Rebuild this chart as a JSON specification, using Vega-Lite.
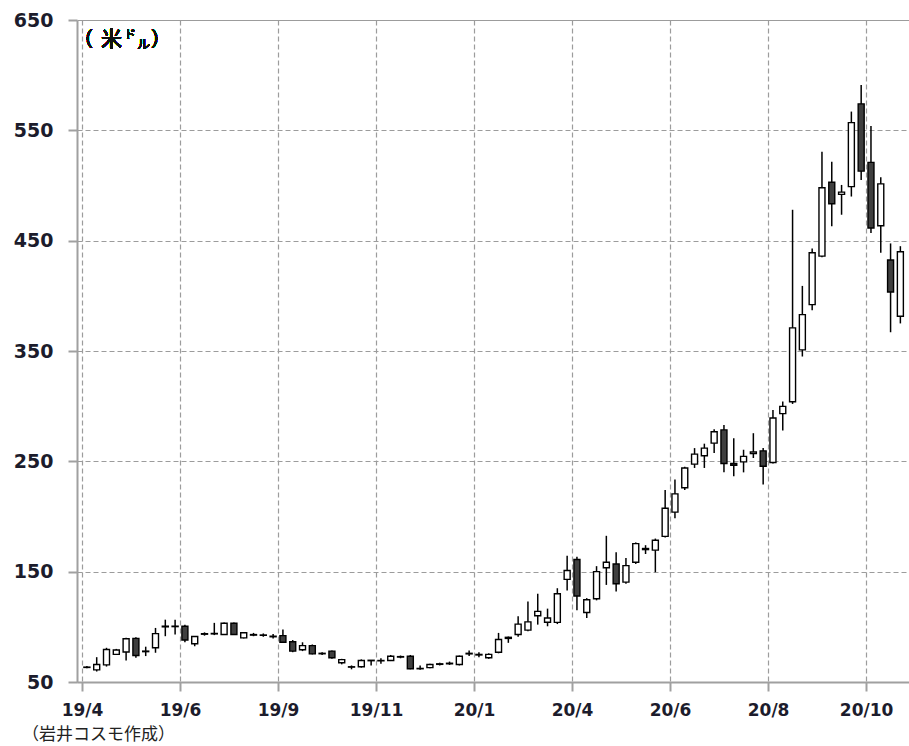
{
  "$schema": "https://vega.github.io/schema/vega-lite/v6.json",
  "width": 832,
  "height": 662,
  "autosize": {"type": "none"},
  "padding": {"left": 77, "top": 20, "right": 0, "bottom": 64},
  "background": "white",
  "config": {"view": {"stroke": null}},
  "title": {"text": "（岩井コスモ作成）", "orient": "bottom", "anchor": "start", "frame": "group", "dx": -55, "offset": 9, "font": "Noto Sans CJK JP", "fontSize": 17, "fontWeight": "normal", "color": "#222222", "baseline": "top"},
  "data": {"values": [
    {"w":0,"o":63.5,"h":64.5,"l":62.5,"c":63.2},
    {"w":1,"o":61,"h":72.5,"l":59.5,"c":65.8},
    {"w":2,"o":65.5,"h":81,"l":64,"c":79.4},
    {"w":3,"o":75,"h":80,"l":74.5,"c":79},
    {"w":4,"o":77.2,"h":90,"l":69.5,"c":89.2},
    {"w":5,"o":89.5,"h":90.5,"l":72,"c":74},
    {"w":6,"o":77.5,"h":82,"l":73.5,"c":78},
    {"w":7,"o":81,"h":99,"l":76.5,"c":93.8},
    {"w":8,"o":100,"h":106.5,"l":91.5,"c":100.6},
    {"w":9,"o":100.6,"h":106.5,"l":93,"c":100.2},
    {"w":10,"o":100.5,"h":102,"l":86,"c":88},
    {"w":11,"o":84.6,"h":91.5,"l":82.4,"c":91.3},
    {"w":12,"o":93.3,"h":95,"l":92,"c":93.8},
    {"w":13,"o":93.6,"h":103.6,"l":92.5,"c":94},
    {"w":14,"o":93,"h":104,"l":92.5,"c":103.2},
    {"w":15,"o":103.2,"h":104,"l":92.5,"c":93},
    {"w":16,"o":90,"h":95,"l":89.5,"c":94.6},
    {"w":17,"o":93,"h":94.5,"l":91.5,"c":92.5},
    {"w":18,"o":92.6,"h":94,"l":91,"c":92.3},
    {"w":19,"o":91.5,"h":93.5,"l":89.5,"c":91},
    {"w":20,"o":92,"h":97.5,"l":85.5,"c":86},
    {"w":21,"o":86.5,"h":88,"l":77,"c":78},
    {"w":22,"o":79.2,"h":86,"l":78,"c":83},
    {"w":23,"o":83,"h":84,"l":75,"c":75.5},
    {"w":24,"o":76,"h":77,"l":74.5,"c":75.6},
    {"w":25,"o":78,"h":78.5,"l":71,"c":72},
    {"w":26,"o":67.4,"h":71,"l":66,"c":70.3},
    {"w":27,"o":63.8,"h":65,"l":61.5,"c":63.5},
    {"w":28,"o":63.8,"h":70.5,"l":63,"c":69.5},
    {"w":29,"o":69.3,"h":70,"l":65,"c":69.7},
    {"w":30,"o":69.5,"h":71.5,"l":66.5,"c":69.2},
    {"w":31,"o":69.5,"h":74.5,"l":69,"c":73.4},
    {"w":32,"o":73,"h":74,"l":71.5,"c":72.6},
    {"w":33,"o":73.4,"h":74.5,"l":61.5,"c":62},
    {"w":34,"o":62.3,"h":65,"l":61,"c":62},
    {"w":35,"o":63,"h":66.5,"l":62.5,"c":65.8},
    {"w":36,"o":66,"h":67.5,"l":65,"c":66.5},
    {"w":37,"o":66.5,"h":68.5,"l":65.5,"c":67},
    {"w":38,"o":65.8,"h":74,"l":65,"c":73.4},
    {"w":39,"o":75.5,"h":78.5,"l":73.5,"c":76},
    {"w":40,"o":75,"h":77,"l":72.5,"c":74.5},
    {"w":41,"o":72,"h":76,"l":71,"c":75},
    {"w":42,"o":77,"h":94.5,"l":76,"c":88.5},
    {"w":43,"o":89.5,"h":91.2,"l":85.5,"c":90.5},
    {"w":44,"o":93,"h":109.5,"l":91,"c":102.5},
    {"w":45,"o":97,"h":123,"l":96,"c":104.5},
    {"w":46,"o":110,"h":130,"l":102,"c":114},
    {"w":47,"o":104.2,"h":116.5,"l":100.5,"c":108},
    {"w":48,"o":104,"h":135,"l":102.5,"c":130},
    {"w":49,"o":143,"h":164.5,"l":133,"c":151},
    {"w":50,"o":161,"h":163.5,"l":115,"c":128},
    {"w":51,"o":113,"h":126,"l":108,"c":124.5},
    {"w":52,"o":125.5,"h":155,"l":124,"c":150},
    {"w":53,"o":153.5,"h":182.5,"l":138,"c":158.5},
    {"w":54,"o":157,"h":167.5,"l":132,"c":139},
    {"w":55,"o":140.5,"h":162.5,"l":139,"c":155.5},
    {"w":56,"o":158.5,"h":176.5,"l":157,"c":175.4},
    {"w":57,"o":170,"h":174,"l":166,"c":171},
    {"w":58,"o":169.5,"h":180,"l":149.5,"c":178.5},
    {"w":59,"o":182,"h":224,"l":181,"c":207.5},
    {"w":60,"o":204,"h":233.5,"l":198.5,"c":220.5},
    {"w":61,"o":226,"h":245,"l":224,"c":244},
    {"w":62,"o":247.5,"h":262,"l":244,"c":256.5},
    {"w":63,"o":255,"h":266,"l":244,"c":262},
    {"w":64,"o":266.5,"h":279,"l":257.5,"c":276.8},
    {"w":65,"o":278.5,"h":283,"l":240,"c":248},
    {"w":66,"o":248,"h":271,"l":236.5,"c":246.5},
    {"w":67,"o":249.5,"h":260.5,"l":240,"c":254.5},
    {"w":68,"o":257,"h":275.5,"l":253,"c":258.5},
    {"w":69,"o":259.5,"h":262,"l":229,"c":245.5},
    {"w":70,"o":249,"h":296.5,"l":248,"c":289.3},
    {"w":71,"o":293.2,"h":304.3,"l":278,"c":299.8},
    {"w":72,"o":304,"h":478,"l":302,"c":371},
    {"w":73,"o":351,"h":409,"l":345,"c":383},
    {"w":74,"o":392,"h":443,"l":387,"c":439},
    {"w":75,"o":436,"h":530.5,"l":435,"c":498},
    {"w":76,"o":503,"h":521.5,"l":463,"c":483.5},
    {"w":77,"o":492,"h":500.5,"l":473.5,"c":494},
    {"w":78,"o":499,"h":567,"l":490,"c":557},
    {"w":79,"o":574,"h":591,"l":505,"c":513},
    {"w":80,"o":521,"h":554,"l":457,"c":461.5},
    {"w":81,"o":463.5,"h":507.5,"l":439,"c":501.5},
    {"w":82,"o":432.5,"h":447.5,"l":367,"c":403.5},
    {"w":83,"o":381.5,"h":445,"l":375,"c":440}
  ]},
  "encoding": {
    "x": {"field": "w", "type": "quantitative",
      "scale": {"domain": [-0.5, 83.37], "nice": false, "zero": false},
      "axis": {"title": null, "values": [-0.5, 9.5, 19.5, 29.5, 39.5, 49.5, 59.5, 69.5, 79.5],
        "labelExpr": "['19/4','19/6','19/9','19/11','20/1','20/4','20/6','20/8','20/10'][round((datum.value+0.5)/10)]",
        "grid": true, "gridDash": [5, 3], "gridColor": "#9c9c9c", "gridWidth": 1.2,
        "domainColor": "#a0a0a0", "domainWidth": 2, "tickColor": "#a0a0a0", "tickSize": 9, "tickWidth": 2,
        "labelFont": "DejaVu Sans", "labelFontWeight": "bold", "labelFontSize": 17, "labelColor": "#1c1c2c",
        "labelPadding": 11, "labelFlush": false, "labelOverlap": false}
    }
  },
  "layer": [
    {
      "mark": {"type": "rule", "color": "black", "strokeWidth": 1.5},
      "encoding": {
        "y": {"field": "l", "type": "quantitative",
          "scale": {"domain": [50, 650], "nice": false, "zero": false},
          "axis": {"title": null, "values": [50, 150, 250, 350, 450, 550, 650],
            "grid": true, "gridDash": {"condition": {"test": "datum.value === 650", "value": []}, "value": [5, 3]},
            "gridColor": "#9c9c9c", "gridWidth": 1.2,
            "domainColor": "#a0a0a0", "domainWidth": 2, "tickColor": "#a0a0a0", "tickSize": 9, "tickWidth": 2,
            "labelFont": "DejaVu Sans", "labelFontWeight": "bold", "labelFontSize": 19, "labelColor": "#1c1c2c",
            "labelPadding": 15}},
        "y2": {"field": "h"}
      }
    },
    {
      "mark": {"type": "bar", "width": 6, "stroke": "black", "strokeWidth": 1.4},
      "encoding": {
        "y": {"field": "o", "type": "quantitative"},
        "y2": {"field": "c"},
        "fill": {"condition": {"test": "datum.c >= datum.o", "value": "white"}, "value": "#3f3f3f"}
      }
    },
    {
      "mark": {"type": "text", "text": "（", "font": "Noto Sans CJK JP", "fontSize": 20, "align": "left", "baseline": "middle", "dx": -9, "color": "#111111"},
      "encoding": {"x": {"datum": -0.5}, "y": {"datum": 632}}
    },
    {
      "mark": {"type": "text", "text": "米", "font": "Noto Sans CJK JP", "fontSize": 21, "align": "left", "baseline": "middle", "dx": 19, "color": "#111111"},
      "encoding": {"x": {"datum": -0.5}, "y": {"datum": 632}}
    },
    {
      "mark": {"type": "text", "text": "ド", "font": "Noto Sans CJK JP", "fontSize": 12, "align": "left", "baseline": "middle", "dx": 42, "dy": -5, "color": "#111111"},
      "encoding": {"x": {"datum": -0.5}, "y": {"datum": 632}}
    },
    {
      "mark": {"type": "text", "text": "ル", "font": "Noto Sans CJK JP", "fontSize": 13, "align": "left", "baseline": "middle", "dx": 55, "dy": 4, "color": "#111111"},
      "encoding": {"x": {"datum": -0.5}, "y": {"datum": 632}}
    },
    {
      "mark": {"type": "text", "text": "）", "font": "Noto Sans CJK JP", "fontSize": 20, "align": "left", "baseline": "middle", "dx": 69, "color": "#111111"},
      "encoding": {"x": {"datum": -0.5}, "y": {"datum": 632}}
    }
  ]
}
